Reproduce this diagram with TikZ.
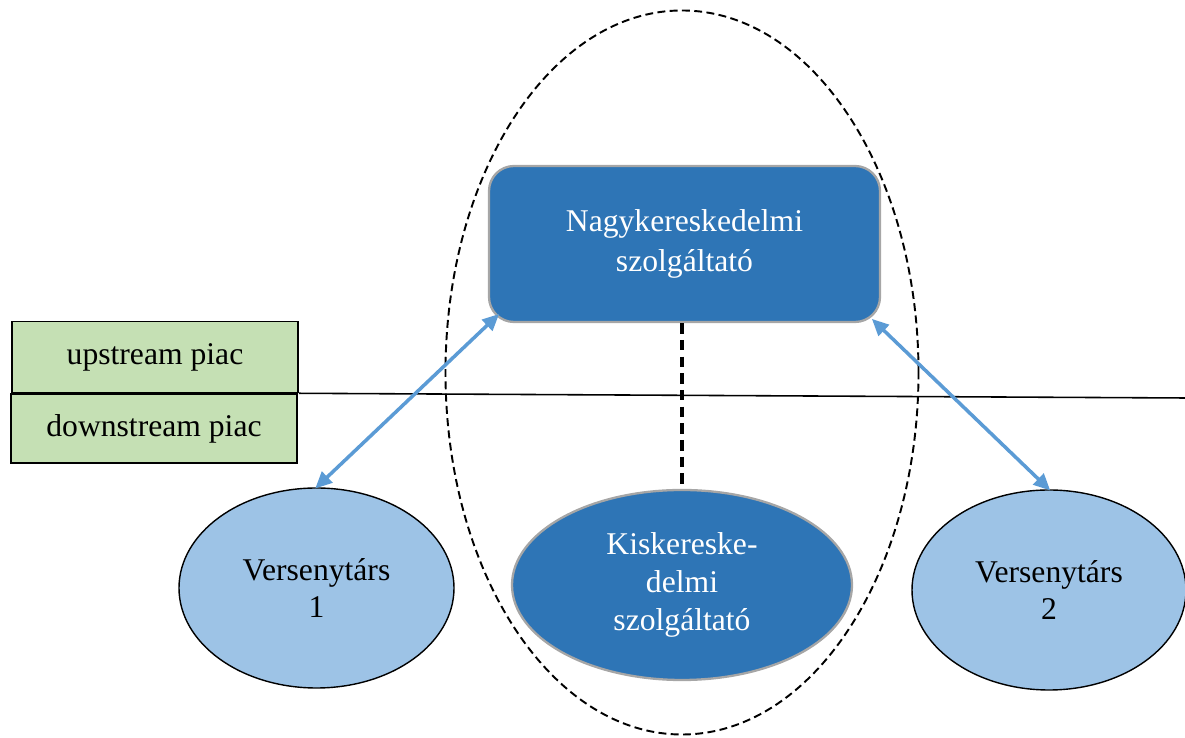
\documentclass[tikz,border=0pt]{standalone}
\usepackage{fontspec}
\setmainfont{Liberation Serif}
\usetikzlibrary{shapes.geometric,arrows.meta,calc}

\definecolor{darkblue}{HTML}{2E75B6}
\definecolor{lightblue}{HTML}{9DC3E6}
\definecolor{arrowblue}{HTML}{5B9BD5}
\definecolor{marketgreen}{HTML}{C5E0B4}
\definecolor{bordergray}{HTML}{A6A6A6}

\newcommand{\txtsize}{\fontsize{18}{21.5}\selectfont}
\newcommand{\linelevel}{6.80}

\tikzset{
	market/.style={draw=black, fill=marketgreen, line width=0.9pt, minimum width=5.72cm, minimum height=1.42cm, inner sep=0pt, font=\txtsize},
	firm/.style={ellipse, draw=black, fill=lightblue, line width=0.8pt, minimum width=5.5cm, minimum height=4cm, inner sep=0pt, align=center, font=\txtsize},
	link/.style={<->, >={Triangle[length=9.5pt,width=8.5pt]}, arrowblue, line width=2pt, shorten <=-1pt, shorten >=-1pt}
}

\begin{document}
\begin{tikzpicture}
	\useasboundingbox (0,0) rectangle (23.7,14.76);
	%The whole vertically integrated firm
	\node[ellipse, draw=black, dashed, dash pattern=on 4.5pt off 2.5pt, line width=1.1pt, minimum width=9.46cm, minimum height=14.48cm, inner sep=0pt] (group) at (13.64,7.31) {};
	%The two market levels
	\node[market] (up) at (3.10,7.62) {upstream piac};
	\node[market, minimum height=1.38cm] (down) at (3.08,6.19) {downstream piac};
	\coordinate (lineend) at (23.7,\linelevel);
	\draw[line width=0.9pt] (up.south east) -- (lineend);
	%The firms
	\node[rounded corners=0.5cm, fill=darkblue, draw=bordergray, line width=1.3pt, minimum width=7.82cm, minimum height=3.12cm, text=white, align=center, font=\fontsize{18}{22.5}\selectfont] (nagy) at (13.69,9.88) {Nagykereskedelmi\\szolgáltató};
	\node[firm, fill=darkblue, draw=bordergray, line width=1.3pt, text=white, minimum width=6.8cm, minimum height=3.8cm] (kisker) at (13.64,3.06) {Kiskereske-\\delmi\\szolgáltató};
	\node[firm] (v1) at (6.33,3.00) {Versenytárs\\1};
	\node[firm, minimum width=5.48cm] (v2) at (20.98,2.96) {Versenytárs\\2};
	%Vertical link inside the firm
	\draw[line width=2.3pt, dash pattern=on 6pt off 3.5pt] (nagy.south -| kisker.north) -- (kisker.north);
	%Access to the wholesale service
	\coordinate (nw) at ($(nagy.south west)+(0.20,0.16)$);
	\coordinate (ne) at ($(nagy.south east)+(-0.16,0.06)$);
	\draw[link] (v1.north) -- (nw);
	\draw[link] (ne) -- (v2.north);
\end{tikzpicture}
\end{document}
